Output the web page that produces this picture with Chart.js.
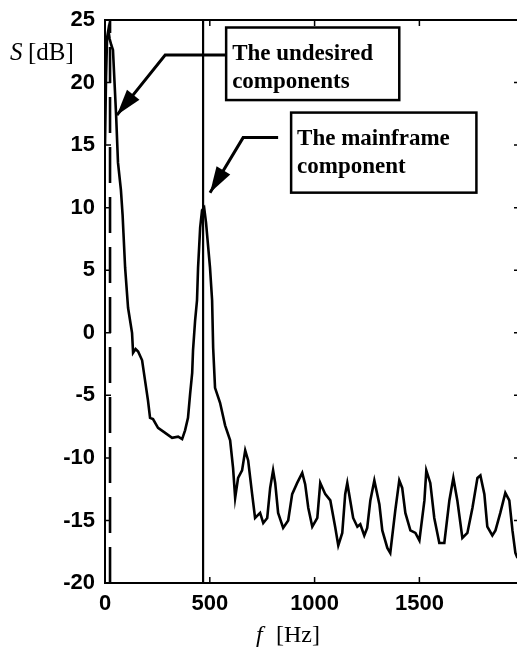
<!DOCTYPE html>
<html>
<head>
<meta charset="utf-8">
<script src="https://cdn.jsdelivr.net/npm/chart.js@4.4.1/dist/chart.umd.min.js"></script>
<style>
  html, body { margin: 0; padding: 0; background: #fff; overflow: hidden; }
  #wrap { position: relative; width: 524px; height: 651px; }
</style>
</head>
<body>
<div id="wrap"><canvas id="spectrum"></canvas></div>
<script>
// ── Dados ───────────────────────────────────────────────
const freqHz = [
  0, 5, 10, 16, 22, 30, 38, 53, 62, 76, 84, 88, 96, 110, 129, 134, 146, 158, 177, 191,
  205, 215, 229, 253, 287, 320, 349, 368, 382, 396, 406, 416, 420, 430, 439, 444, 454, 463, 473, 482,
  501, 511, 516, 525, 549, 573, 597, 611, 621, 635, 654, 669, 683, 702, 716, 740, 755, 774, 788, 802,
  812, 826, 850, 874, 893, 917, 941, 955, 970, 989, 1013, 1027, 1051, 1075, 1098, 1113, 1132, 1146, 1156, 1170,
  1184, 1204, 1218, 1237, 1251, 1266, 1285, 1309, 1323, 1347, 1361, 1385, 1404, 1418, 1433, 1457, 1481, 1500, 1524, 1533,
  1552, 1571, 1595, 1619, 1643, 1662, 1681, 1705, 1729, 1753, 1777, 1791, 1810, 1824, 1848, 1863, 1886, 1910, 1929, 1944,
  1958, 1968
];
const levelDb = [
  15.0, 20.5, 23.6, 24.2, 23.5, 23.0, 22.6, 17.4, 13.6, 11.4, 9.4, 8.0, 5.2, 2.0, 0.0, -1.6, -1.3, -1.5, -2.2, -3.8,
  -5.4, -6.8, -6.9, -7.6, -8.0, -8.4, -8.3, -8.5, -7.8, -6.8, -4.9, -3.2, -1.4, 1.0, 2.6, 5.2, 8.4, 9.8, 10.0, 8.8,
  5.2, 2.6, -1.2, -4.4, -5.6, -7.4, -8.6, -10.8, -13.2, -11.6, -11.0, -9.4, -10.2, -12.9, -14.8, -14.4, -15.2, -14.8, -12.4, -11.0,
  -12.0, -14.4, -15.6, -15.0, -12.9, -12.0, -11.2, -12.1, -14.0, -15.5, -14.8, -12.0, -12.9, -13.4, -15.5, -17.0, -16.0, -12.9, -12.0, -13.4,
  -14.8, -15.5, -15.3, -16.2, -15.6, -13.4, -11.8, -13.7, -15.8, -17.2, -17.6, -14.2, -11.8, -12.4, -14.4, -15.8, -16.0, -16.6, -13.4, -11.0,
  -12.0, -14.8, -16.8, -16.8, -13.4, -11.6, -13.4, -16.4, -16.0, -14.0, -11.6, -11.4, -12.9, -15.5, -16.2, -15.8, -14.4, -12.8, -13.4, -15.8,
  -17.6, -18.0
];
const undesiredHz = 24;     // linha tracejada
const mainframeHz = 468;    // linha contínua
const xTicks = [0, 500, 1000, 1500];
const yTicks = [-20, -15, -10, -5, 0, 5, 10, 15, 20, 25];
const xRange = [0, 1980];
const yRange = [-20, 25];

// caixas de anotação (unidades dos dados): [x0, x1, yTop, yBottom]
const undesiredBox = [578, 1404, 24.4, 18.6];
const mainframeBox = [888, 1772, 17.6, 11.2];
// setas: início, cotovelo, ponta
const undesiredArrow = [[578, 22.2], [287, 22.2], [57, 17.4]];
const mainframeArrow = [[826, 15.6], [659, 15.6], [501, 11.2]];

const TICK_FONT = { family: "'Liberation Sans', Arial, sans-serif", size: 22, weight: 'bold' };
const SERIF = "'Liberation Serif', 'Times New Roman', serif";

const toPts = (xs, ys) => xs.map((x, i) => ({ x, y: ys[i] }));
const vline = (x) => [{ x, y: yRange[0] }, { x, y: yRange[1] }];

// ── Moldura + marcas internas ───────────────────────────
const framePlugin = {
  id: 'frame',
  afterDatasetsDraw(chart) {
    const { ctx, chartArea: a, scales: { x, y } } = chart;
    ctx.save();
    ctx.strokeStyle = '#000';
    ctx.lineWidth = 2;
    ctx.strokeRect(a.left, a.top, a.right - a.left, a.bottom - a.top);
    ctx.lineWidth = 1.5;
    ctx.beginPath();
    yTicks.forEach(v => {
      const py = y.getPixelForValue(v);
      ctx.moveTo(a.left, py); ctx.lineTo(a.left + 6, py);
      ctx.moveTo(a.right, py); ctx.lineTo(a.right - 6, py);
    });
    xTicks.forEach(v => {
      const px = x.getPixelForValue(v);
      ctx.moveTo(px, a.bottom); ctx.lineTo(px, a.bottom - 6);
      ctx.moveTo(px, a.top); ctx.lineTo(px, a.top + 6);
    });
    ctx.stroke();
    ctx.restore();
  },
};

// ── Títulos dos eixos e anotações ───────────────────────
function drawArrow(ctx, x, y, pts) {
  const p = pts.map(([f, s]) => [x.getPixelForValue(f), y.getPixelForValue(s)]);
  ctx.lineWidth = 3;
  ctx.beginPath();
  ctx.moveTo(p[0][0], p[0][1]);
  ctx.lineTo(p[1][0], p[1][1]);
  ctx.lineTo(p[2][0], p[2][1]);
  ctx.stroke();
  const [tx, ty] = p[2];
  const ang = Math.atan2(ty - p[1][1], tx - p[1][0]);
  const len = 26, half = 8;
  const bx = tx - len * Math.cos(ang), by = ty - len * Math.sin(ang);
  ctx.beginPath();
  ctx.moveTo(tx, ty);
  ctx.lineTo(bx + half * Math.sin(ang), by - half * Math.cos(ang));
  ctx.lineTo(bx - half * Math.sin(ang), by + half * Math.cos(ang));
  ctx.closePath();
  ctx.fill();
}

function drawBox(ctx, x, y, box, lines) {
  const x0 = x.getPixelForValue(box[0]), x1 = x.getPixelForValue(box[1]);
  const y0 = y.getPixelForValue(box[2]), y1 = y.getPixelForValue(box[3]);
  ctx.fillStyle = '#fff';
  ctx.fillRect(x0, y0, x1 - x0, y1 - y0);
  ctx.lineWidth = 2.5;
  ctx.strokeRect(x0, y0, x1 - x0, y1 - y0);
  ctx.fillStyle = '#000';
  ctx.font = `bold 23px ${SERIF}`;
  ctx.textBaseline = 'alphabetic';
  ctx.textAlign = 'left';
  lines.forEach((t, i) => ctx.fillText(t, x0 + 6, y0 + 32 + i * 28));
}

const notesPlugin = {
  id: 'notes',
  afterDraw(chart) {
    const { ctx, scales: { x, y } } = chart;
    ctx.save();
    ctx.strokeStyle = '#000';
    ctx.fillStyle = '#000';
    drawArrow(ctx, x, y, undesiredArrow);
    drawArrow(ctx, x, y, mainframeArrow);
    drawBox(ctx, x, y, undesiredBox, ['The undesired', 'components']);
    drawBox(ctx, x, y, mainframeBox, ['The mainframe', 'component']);

    // títulos dos eixos
    ctx.fillStyle = '#000';
    ctx.textBaseline = 'alphabetic';
    ctx.textAlign = 'left';
    ctx.font = `italic 25px ${SERIF}`;
    ctx.fillText('S', 10, 60);
    ctx.font = `25px ${SERIF}`;
    ctx.fillText('[dB]', 28, 60);
    ctx.font = `italic 24px ${SERIF}`;
    ctx.fillText('f', 256, 642);
    ctx.font = `24px ${SERIF}`;
    ctx.fillText('[Hz]', 276, 642);
    ctx.restore();
  },
};

new Chart(document.getElementById('spectrum'), {
  type: 'scatter',
  data: {
    datasets: [
      {
        data: toPts(freqHz, levelDb),
        showLine: true, borderColor: '#000', borderWidth: 2.6,
        pointRadius: 0, tension: 0,
      },
      {
        data: vline(undesiredHz),
        showLine: true, borderColor: '#000', borderWidth: 2.6,
        borderDash: [36, 14], pointRadius: 0,
      },
      {
        data: vline(mainframeHz),
        showLine: true, borderColor: '#000', borderWidth: 2.2,
        pointRadius: 0,
      },
    ],
  },
  options: {
    responsive: true,
    maintainAspectRatio: false,
    animation: false,
    layout: { padding: { left: 0, right: 4, top: 20, bottom: 0 } },
    plugins: { legend: { display: false }, tooltip: { enabled: false } },
    scales: {
      x: {
        type: 'linear', min: xRange[0], max: xRange[1],
        afterBuildTicks: (s) => { s.ticks = xTicks.map(v => ({ value: v })); },
        afterFit: (s) => { s.height = 68; s.paddingLeft = 0; s.paddingRight = 0; },
        grid: { display: false, drawTicks: false },
        border: { display: false },
        ticks: { color: '#000', font: TICK_FONT, padding: 8, maxRotation: 0, callback: (v) => String(v) },
      },
      y: {
        type: 'linear', min: yRange[0], max: yRange[1],
        afterBuildTicks: (s) => { s.ticks = yTicks.map(v => ({ value: v })); },
        afterFit: (s) => { s.width = 105; s.paddingTop = 0; s.paddingBottom = 0; },
        grid: { display: false, drawTicks: false },
        border: { display: false },
        ticks: { color: '#000', font: TICK_FONT, padding: 10, callback: (v) => String(v) },
      },
    },
  },
  plugins: [framePlugin, notesPlugin],
});
</script>
</body>
</html>
